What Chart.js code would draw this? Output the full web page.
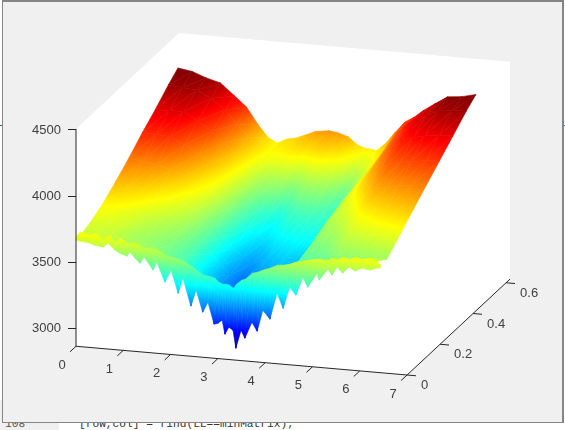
<!DOCTYPE html>
<html>
<head>
<meta charset="utf-8">
<script src="https://cdn.jsdelivr.net/npm/chart.js@4"></script>
<style>
html, body { margin: 0; padding: 0; background: #fff; }
body { width: 565px; height: 430px; position: relative; overflow: hidden; font-family: "Liberation Sans", sans-serif; }
#gutter { position: absolute; left: 0; top: 400px; width: 59px; height: 30px; background: #f0f0f0; }
#lineNo, #code { position: absolute; top: 417px; font: 11.2px/14px "Liberation Mono", monospace; color: #333; white-space: pre; }
#lineNo { left: 5px; color: #555; }
#code { left: 79px; }
#win { position: absolute; left: 2px; top: 0; width: 559px; height: 420px; background: #f0f0f0; border: 1px solid #858585; border-top-width: 2px; border-right-width: 2px; }
.nub { position: absolute; height: 1px; width: 2px; }
canvas { position: absolute; left: 0; top: 0; }
</style>
</head>
<body>
<div id="gutter"></div>
<div id="lineNo">108</div>
<div id="code">[row,col] = find(LL==minMatrix);</div>
<div class="nub" style="left:0;top:125px;background:#3a6ea5"></div>
<div class="nub" style="left:563px;top:125px;background:#3a6ea5"></div>
<div id="win"></div>
<canvas id="chart" width="565" height="430"></canvas>
<script>
// axis limits and ticks
let xLim = [0, 7];
let yLim = [0, 0.624];
let zLim = [2864, 4508];
let xTicks = [0, 1, 2, 3, 4, 5, 6, 7];
let yTicks = [0, 0.2, 0.4, 0.6];
let zTicks = [3000, 3500, 4000, 4500];

// colour range of the surface
let cLim = [2950, 4220];

// main body of the surface, one row per y
let bodyX = [0, 0.3, 0.6, 0.9, 1.2, 1.45, 1.7, 1.9, 2.1, 2.3, 2.5, 2.7, 2.9, 3.2, 3.4, 3.6, 3.8, 3.95, 4.2, 4.4, 4.6, 4.8, 5.0, 5.2, 5.45, 5.7, 6.0, 6.3];
let bodyY = [0.012, 0.08, 0.16, 0.24, 0.32, 0.40, 0.48, 0.56, 0.618];
let bodyZ = [
    [3665,3668,3670,3655,3640,3620,3590,3560,3530,3485,3440,3410,3380,3340,3370,3400,3450,3480,3530,3560,3600,3625,3645,3660,3675,3690,3695,3685],
    [3695,3692,3680,3640,3620,3600,3580,3550,3520,3440,3370,3310,3260,3290,3300,3310,3310,3310,3440,3530,3530,3530,3560,3590,3598,3604,3616,3628],
    [3750,3740,3715,3685,3660,3640,3620,3580,3530,3450,3370,3300,3240,3280,3300,3320,3320,3320,3470,3575,3590,3600,3635,3670,3685,3698,3711,3724],
    [3830,3815,3795,3765,3735,3705,3670,3615,3555,3475,3400,3340,3300,3345,3360,3375,3360,3345,3500,3625,3645,3670,3710,3750,3770,3790,3804,3818],
    [3915,3900,3885,3855,3815,3770,3725,3665,3595,3515,3450,3410,3390,3425,3435,3445,3445,3445,3570,3660,3700,3745,3795,3845,3863,3880,3896,3912],
    [4010,4010,4005,3950,3890,3830,3775,3710,3640,3565,3510,3480,3450,3505,3510,3515,3505,3495,3610,3700,3765,3830,3885,3940,3958,3975,3989,4003],
    [4095,4098,4100,4035,3970,3890,3815,3755,3690,3640,3625,3620,3580,3625,3625,3620,3580,3540,3640,3720,3810,3900,3965,4030,4052,4075,4085,4095],
    [4190,4180,4170,4115,4040,3940,3845,3790,3745,3750,3760,3770,3765,3790,3775,3760,3715,3670,3710,3750,3855,3960,4030,4095,4130,4170,4180,4188],
    [4251,4234,4194,4165,4076,4000,3872,3787,3748,3784,3799,3828,3859,3875,3864,3842,3786,3768,3756,3819,3909,3991,4035,4092,4152,4209,4220,4245]
];

// the spiky front edge: tips at y=0, crest just behind
let edgeX = [0,0.08,0.30,0.40,0.57,0.68,0.82,0.93,1.08,1.14,1.25,1.35,1.44,1.63,1.71,1.88,2.01,2.16,2.26,2.43,2.54,2.68,2.79,2.92,3.00,3.09,3.15,3.23,3.32,3.38,3.49,3.57,3.72,3.83,3.95,4.10,4.25,4.38,4.52,4.65,4.80,4.90,5.10,5.14,5.33,5.41,5.52,5.64,5.77,5.90,6.05,6.22,6.36,6.43];
let edgeY = [0, 0.004];
let edgeTips = [3667,3662,3653,3641,3631,3666,3617,3597,3579,3612,3569,3534,3583,3491,3553,3407,3502,3332,3450,3243,3367,3205,3284,3122,3131,3157,3053,3109,3088,2954,3094,3036,3162,3097,3259,3196,3397,3287,3452,3395,3536,3463,3575,3524,3613,3570,3634,3592,3642,3616,3643,3633,3653,3655];
let edgeCrest = [3693,3725,3709,3728,3680,3722,3666,3706,3666,3668,3678,3659,3647,3645,3640,3607,3596,3585,3574,3541,3514,3481,3476,3466,3438,3425,3427,3422,3402,3434,3468,3478,3528,3539,3558,3578,3605,3609,3622,3641,3653,3663,3677,3678,3668,3694,3682,3709,3690,3717,3699,3719,3694,3673];
// the edge reads a little warmer than its height gives
let edgeColourShift = 25;

// view: how far y and x lean the picture, in x and z units
let yToX = 3.488;
let yToZ = 1163;
let xToZ = -31.06;

function project(x, y, z) {
    return { x: x + y * yToX, y: z + x * xToZ + y * yToZ };
}

function clamp01(v) {
    return Math.max(0, Math.min(1, v));
}

function jet(t) {
    let r = clamp01(1.5 - Math.abs(4 * t - 3));
    let g = clamp01(1.5 - Math.abs(4 * t - 2));
    let b = clamp01(1.5 - Math.abs(4 * t - 1));
    return "rgb(" + Math.round(r * 255) + "," + Math.round(g * 255) + "," + Math.round(b * 255) + ")";
}

function colourAt(z) {
    return jet(clamp01((z - cLim[0]) / (cLim[1] - cLim[0])));
}

// z is linear across a triangle, so a straight gradient gives the right colours
function triangle(ctx, a, b, c) {
    let det = (b.x - a.x) * (c.y - a.y) - (c.x - a.x) * (b.y - a.y);
    let style;
    let low = Math.min(a.z, b.z, c.z);
    let high = Math.max(a.z, b.z, c.z);
    if (Math.abs(det) < 0.01 || high === low) {
        style = colourAt((a.z + b.z + c.z) / 3);
    } else {
        let gx = ((b.z - a.z) * (c.y - a.y) - (c.z - a.z) * (b.y - a.y)) / det;
        let gy = ((c.z - a.z) * (b.x - a.x) - (b.z - a.z) * (c.x - a.x)) / det;
        let g2 = gx * gx + gy * gy;
        let x0 = a.x + gx * (low - a.z) / g2;
        let y0 = a.y + gy * (low - a.z) / g2;
        let x1 = a.x + gx * (high - a.z) / g2;
        let y1 = a.y + gy * (high - a.z) / g2;
        style = ctx.createLinearGradient(x0, y0, x1, y1);
        style.addColorStop(0, colourAt(low));
        [1 / 8, 3 / 8, 5 / 8, 7 / 8].forEach(k => {
            let v = cLim[0] + k * (cLim[1] - cLim[0]);
            if (v > low && v < high) style.addColorStop((v - low) / (high - low), colourAt(v));
        });
        style.addColorStop(1, colourAt(high));
    }
    ctx.fillStyle = style;
    ctx.strokeStyle = style;
    ctx.beginPath();
    ctx.moveTo(a.x, a.y);
    ctx.lineTo(b.x, b.y);
    ctx.lineTo(c.x, c.y);
    ctx.closePath();
    ctx.fill();
    ctx.stroke();
}

// grid of points to scatter data, rows first
function gridPoints(xs, ys, zs) {
    let pts = [];
    ys.forEach((y, r) => xs.forEach((x, c) => pts.push(project(x, y, zs[r][c]))));
    return pts;
}

function drawGrid(chart, ctx, index, xs, ys, zs, shift) {
    let els = chart.getDatasetMeta(index).data;
    let nx = xs.length;
    let at = (r, c) => ({ x: els[r * nx + c].x, y: els[r * nx + c].y, z: zs[r][c] + shift });
    for (let r = ys.length - 2; r >= 0; r--) {
        for (let c = 0; c < nx - 1; c++) {
            triangle(ctx, at(r + 1, c), at(r + 1, c + 1), at(r, c));
            triangle(ctx, at(r + 1, c + 1), at(r, c + 1), at(r, c));
        }
    }
}

let edgeZ = [edgeTips, edgeCrest];

let surfacePlugin = {
    id: "surface",
    beforeDatasetsDraw(chart) {
        let ctx = chart.ctx;
        let sx = chart.scales.x, sy = chart.scales.y;
        let px = (p) => [sx.getPixelForValue(p.x), sy.getPixelForValue(p.y)];

        // white walls of the axes box
        let box = [
            project(xLim[0], yLim[0], zLim[1]), project(xLim[0], yLim[1], zLim[1]),
            project(xLim[1], yLim[1], zLim[1]), project(xLim[1], yLim[1], zLim[0]),
            project(xLim[1], yLim[0], zLim[0]), project(xLim[0], yLim[0], zLim[0])
        ].map(px);
        ctx.save();
        ctx.fillStyle = "#fff";
        ctx.beginPath();
        box.forEach((p, i) => i ? ctx.lineTo(p[0], p[1]) : ctx.moveTo(p[0], p[1]));
        ctx.closePath();
        ctx.fill();

        ctx.lineWidth = 0.6;
        drawGrid(chart, ctx, 0, bodyX, bodyY, bodyZ, 0);
        drawGrid(chart, ctx, 1, edgeX, edgeY, edgeZ, edgeColourShift);
        ctx.restore();
    },
    afterDatasetsDraw(chart) {
        let ctx = chart.ctx;
        let sx = chart.scales.x, sy = chart.scales.y;
        ctx.save();
        ctx.font = "13px 'Liberation Sans', Arial, sans-serif";
        ctx.fillStyle = "#404040";
        ctx.textBaseline = "middle";
        ctx.textAlign = "center";
        xTicks.forEach(t => {
            let p = project(t, yLim[0], zLim[0]);
            ctx.fillText(String(t), sx.getPixelForValue(p.x) - 14, sy.getPixelForValue(p.y) + 19);
        });
        ctx.textAlign = "left";
        yTicks.forEach(t => {
            let p = project(xLim[1], t, zLim[0]);
            ctx.fillText(String(t), sx.getPixelForValue(p.x) + 14, sy.getPixelForValue(p.y) + 10.5);
        });
        ctx.restore();
    }
};

function axisLine(a, b) {
    return {
        type: "scatter",
        data: [project(a[0], a[1], a[2]), project(b[0], b[1], b[2])],
        showLine: true,
        borderColor: "#262626",
        borderWidth: 1,
        pointRadius: 0,
        fill: false,
        clip: false
    };
}

let axisLines = [
    axisLine([xLim[0], yLim[0], zLim[0]], [xLim[1], yLim[0], zLim[0]]),
    axisLine([xLim[1], yLim[0], zLim[0]], [xLim[1], yLim[1], zLim[0]]),
    axisLine([xLim[0], yLim[0], zLim[0]], [xLim[0], yLim[0], zLim[1]])
];
xTicks.forEach(t => axisLines.push(axisLine([t, yLim[0], zLim[0]], [t, yLim[0] - 0.036, zLim[0]])));
yTicks.forEach(t => axisLines.push(axisLine([xLim[1], t, zLim[0]], [xLim[1] + 0.19, t, zLim[0]])));

let bottomRight = project(xLim[1], yLim[0], zLim[0]);
let topBack = project(xLim[0], yLim[1], zLim[1]);
let rightBack = project(xLim[1], yLim[1], zLim[0]);

new Chart(document.getElementById("chart"), {
    type: "scatter",
    data: {
        datasets: [
            { data: gridPoints(bodyX, bodyY, bodyZ), pointRadius: 0, showLine: false, clip: false },
            { data: gridPoints(edgeX, edgeY, edgeZ), pointRadius: 0, showLine: false, clip: false }
        ].concat(axisLines)
    },
    options: {
        responsive: false,
        animation: false,
        events: [],
        layout: { padding: { left: 0, top: 33, right: 55, bottom: 55 } },
        plugins: { legend: { display: false }, tooltip: { enabled: false } },
        scales: {
            x: { type: "linear", display: false, min: 0, max: rightBack.x },
            y: {
                type: "linear",
                min: bottomRight.y,
                max: topBack.y,
                afterBuildTicks(scale) { scale.ticks = zTicks.map(v => ({ value: v })); },
                afterFit(scale) { scale.width = 76; },
                border: { display: false },
                grid: { drawOnChartArea: false, tickLength: 8, tickColor: "#262626", lineWidth: 1 },
                ticks: {
                    padding: 7,
                    autoSkip: false,
                    color: "#404040",
                    font: { family: "'Liberation Sans', Arial, sans-serif", size: 13 },
                    callback: v => String(v)
                }
            }
        }
    },
    plugins: [surfacePlugin]
});
</script>
</body>
</html>
